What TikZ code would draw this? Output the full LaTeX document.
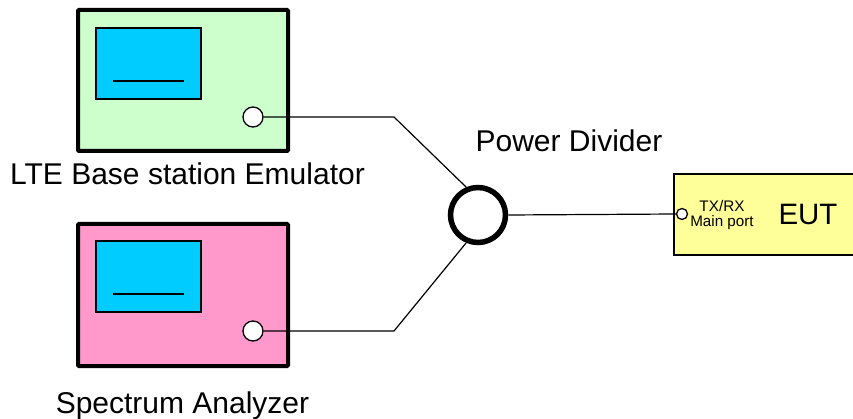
\documentclass[tikz,border=0pt]{standalone}
\usepackage{fontspec}
\setmainfont{Liberation Sans}
\definecolor{boxgreen}{HTML}{CCFFCC}
\definecolor{boxpink}{HTML}{FF99CC}
\definecolor{screenblue}{HTML}{00CCFF}
\definecolor{eutyellow}{HTML}{FFFF99}
\begin{document}
\begin{tikzpicture}[x=1pt,y=-1pt,
  instrument/.style={draw=black,line width=4pt,rounded corners=1pt},
  screenbox/.style={draw=black,line width=1.3pt,fill=screenblue},
  port/.style={circle,draw=black,line width=1.3pt,fill=white,inner sep=0pt,minimum size=20pt},
  smallport/.style={circle,draw=black,line width=1.3pt,fill=white,inner sep=0pt,minimum size=11pt},
  divider/.style={circle,draw=black,line width=5.5pt,fill=white,inner sep=0pt,minimum size=55pt},
  wire/.style={draw=black,line width=1.2pt},
  biglabel/.style={font=\fontsize{30}{34}\selectfont,inner sep=0pt,anchor=base}]
\useasboundingbox (0,0) rectangle (853,419);
% EUT box
\filldraw[fill=eutyellow,draw=black,line width=1.5pt] (674,174) rectangle (870,255);
\node[font=\fontsize{15.3}{17}\selectfont,inner sep=0pt] (eutlab1) at (722,206) {TX/RX};
\node[font=\fontsize{15.2}{17}\selectfont,inner sep=0pt] (eutlab2) at (722,223) {Main port};
\node[font=\fontsize{29.5}{32}\selectfont,inner sep=0pt] (eut) at (808,214) {EUT};
\node[smallport] (eutport) at (682,214) {};
% LTE emulator
\filldraw[instrument,fill=boxgreen] (78,10) rectangle (288,151);
\filldraw[screenbox] (96,28) rectangle (201,99);
\draw[line width=1.3pt] (113,81) -- (184,81);
\node[port] (p1) at (253,117) {};
\node[biglabel] (lte) at (187.5,185) {LTE Base station Emulator};
% Spectrum analyzer
\filldraw[instrument,fill=boxpink] (78,224) rectangle (288,366);
\filldraw[screenbox] (96,241) rectangle (201,312);
\draw[line width=1.3pt] (113,294) -- (184,294);
\node[port] (p2) at (253,331) {};
\node[biglabel] (sa) at (182.5,413) {Spectrum Analyzer};
% Power divider
\node[divider] (div) at (478,215) {};
\node[biglabel] (pdlab) at (569,152) {Power Divider};
% wires
\coordinate (k1) at (394,117);
\coordinate (k2) at (394,331);
\draw[wire] (p1.east) -- (k1) -- (div.113);
\draw[wire] (p2.east) -- (k2) -- (div.247);
\draw[wire] (div.east) -- (eutport.west);
\end{tikzpicture}
\end{document}
